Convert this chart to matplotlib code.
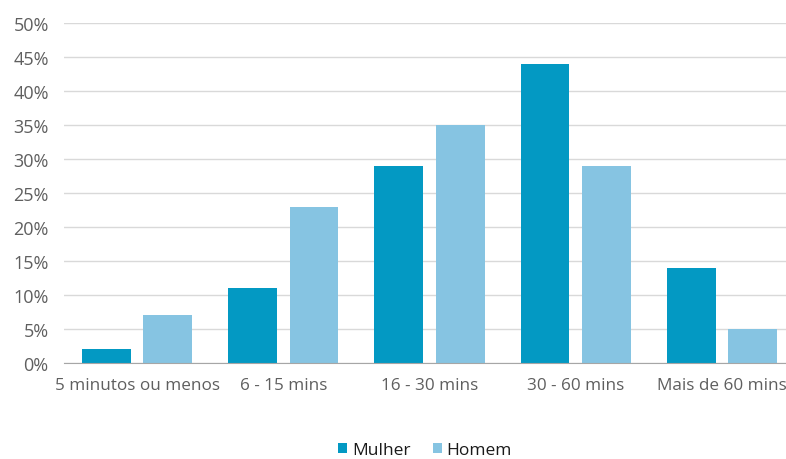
import matplotlib.pyplot as plt
import matplotlib.ticker as mticker
import numpy as np

categories = ['5 minutos ou menos', '6 - 15 mins', '16 - 30 mins', '30 - 60 mins', 'Mais de 60 mins']
mulher = [0.02, 0.11, 0.29, 0.44, 0.14]
homem = [0.07, 0.23, 0.35, 0.29, 0.05]

plt.rcParams['font.family'] = ['Open Sans', 'DejaVu Sans']

fig = plt.figure(figsize=(7.86, 4.6), dpi=100)
# plot area runs past the right edge of the figure
ax = fig.add_axes([64 / 786, 1 - 364 / 460, 731 / 786, 340 / 460])

x = np.arange(len(categories))
w = 0.335
ax.bar(x - 0.21, mulher, w, color='#0399c3', label='Mulher', zorder=3)
ax.bar(x + 0.21, homem, w, color='#86c4e2', label='Homem', zorder=3)

ax.set_xlim(-0.5, len(categories) - 0.5)
ax.set_ylim(0, 0.5)
ax.yaxis.set_major_locator(mticker.MultipleLocator(0.05))
ax.yaxis.set_major_formatter(mticker.PercentFormatter(1.0, decimals=0))
ax.grid(axis='y', color='#d9d9d9', linewidth=1, zorder=0)

ax.set_xticks(x)
ax.set_xticklabels(categories)
ax.tick_params(axis='both', length=0, colors='#5f5f5f')
ax.tick_params(axis='x', pad=10, labelsize=12.3)
ax.tick_params(axis='y', pad=11, labelsize=13)

for side in ['top', 'right', 'left']:
    ax.spines[side].set_visible(False)
ax.spines['bottom'].set_color('#a6a6a6')
ax.spines['bottom'].set_zorder(4)

fig.legend(loc='center', bbox_to_anchor=(425 / 786, 1 - 451 / 460), ncol=2, frameon=False,
           fontsize=12.5, handlelength=0.5, handleheight=0.5, handletextpad=0.3,
           columnspacing=1.3, labelcolor='#1a1a1a')

fig.savefig('out.png', dpi=100)
